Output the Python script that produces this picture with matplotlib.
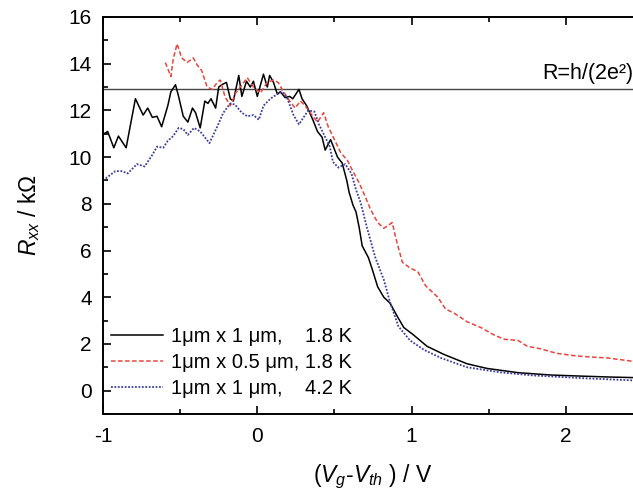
import matplotlib
matplotlib.use("Agg")
import matplotlib.pyplot as plt
from matplotlib.ticker import MultipleLocator, FuncFormatter

plt.rcParams['font.family'] = ['Liberation Sans', 'DejaVu Sans']
plt.rcParams['mathtext.fontset'] = 'custom'
plt.rcParams['mathtext.rm'] = 'Liberation Sans'
plt.rcParams['mathtext.it'] = 'Liberation Sans:italic'

# 1um x 1um, 1.8 K
x_a = [-1.0, -0.97, -0.93, -0.90, -0.85, -0.79, -0.74, -0.71, -0.68, -0.65, -0.62, -0.58, -0.56, -0.53,
       -0.51, -0.48, -0.45, -0.42, -0.40, -0.37, -0.34, -0.32, -0.30, -0.27, -0.25, -0.23, -0.20, -0.175,
       -0.155, -0.12, -0.10, -0.07, -0.045, -0.025, 0.0, 0.04, 0.065, 0.08, 0.105, 0.13, 0.15, 0.18, 0.21,
       0.23, 0.27, 0.29, 0.32, 0.36, 0.39, 0.42, 0.44, 0.475, 0.52, 0.55, 0.58, 0.595, 0.62, 0.64, 0.66,
       0.68, 0.72, 0.745, 0.78, 0.82, 0.86, 0.91, 0.95, 1.01, 1.10, 1.21, 1.36, 1.49, 1.69, 1.90, 2.11,
       2.30, 2.5]
y_a = [10.97, 11.1, 10.4, 10.9, 10.4, 12.5, 11.8, 12.1, 11.7, 11.75, 11.3, 12.2, 12.8, 13.1,
       12.6, 11.75, 11.5, 12.1, 11.9, 11.25, 12.4, 12.3, 12.5, 12.1, 13.0, 13.1, 13.2, 12.5,
       12.4, 13.5, 12.6, 13.25, 13.0, 13.25, 12.6, 13.55, 13.0, 13.5, 13.2, 12.7, 12.8, 12.55, 12.6,
       12.5, 12.9, 12.5, 12.2, 11.6, 11.1, 10.85, 10.3, 10.75, 10.0, 9.75, 9.0, 8.5, 7.95, 7.65, 7.0,
       6.2, 5.7, 5.2, 4.45, 4.0, 3.75, 3.15, 2.7, 2.4, 1.9, 1.55, 1.15, 0.95, 0.77, 0.67, 0.62,
       0.58, 0.55]

# 1um x 0.5um, 1.8 K
x_b = [-0.596, -0.56, -0.545, -0.52, -0.49, -0.455, -0.415, -0.39, -0.36, -0.325, -0.29, -0.26, -0.24,
       -0.21, -0.175, -0.14, -0.11, -0.065, -0.025, 0.02, 0.065, 0.105, 0.135, 0.17, 0.21, 0.245, 0.28,
       0.31, 0.355, 0.39, 0.43, 0.46, 0.50, 0.54, 0.585, 0.615, 0.66, 0.70, 0.735, 0.78, 0.82, 0.875,
       0.895, 0.94, 0.99, 1.04, 1.09, 1.17, 1.22, 1.28, 1.36, 1.45, 1.53, 1.60, 1.69, 1.75, 1.83, 1.94,
       2.05, 2.14, 2.27, 2.5]
y_b = [14.05, 13.45, 14.2, 14.85, 14.25, 14.05, 14.25, 13.95, 13.7, 13.0, 12.9, 13.2, 13.3,
       12.6, 12.2, 12.75, 13.0, 13.4, 13.0, 12.75, 13.2, 13.3, 13.2, 12.8, 12.4, 12.1, 12.4,
       12.2, 11.8, 11.5, 11.9, 11.3, 10.75, 10.2, 9.85, 9.45, 8.9, 8.3, 7.75, 7.2, 6.95, 7.2,
       6.6, 5.5, 5.25, 5.1, 4.5, 4.0, 3.5, 3.3, 2.95, 2.7, 2.4, 2.2, 2.15, 1.9, 1.8, 1.6,
       1.5, 1.45, 1.4, 1.2]

# 1um x 1um, 4.2 K
x_c = [-1.0, -0.97, -0.92, -0.88, -0.84, -0.78, -0.73, -0.68, -0.65, -0.61, -0.58, -0.545, -0.51, -0.48,
       -0.45, -0.41, -0.37, -0.34, -0.31, -0.26, -0.22, -0.175, -0.145, -0.10, -0.065, -0.025, 0.01, 0.04,
       0.085, 0.13, 0.16, 0.195, 0.235, 0.27, 0.30, 0.33, 0.37, 0.40, 0.47, 0.49, 0.525, 0.57, 0.61, 0.64,
       0.67, 0.71, 0.765, 0.82, 0.86, 0.915, 0.99, 1.08, 1.19, 1.36, 1.58, 1.79, 2.12, 2.5]
y_c = [9.0, 9.15, 9.4, 9.4, 9.3, 9.7, 9.6, 10.1, 10.45, 10.4, 10.7, 10.9, 11.25, 11.2,
       10.95, 11.25, 11.1, 10.85, 10.6, 11.3, 11.9, 12.3, 12.25, 11.9, 11.75, 11.8, 11.6, 12.2,
       12.5, 12.7, 12.8, 12.5, 11.8, 11.4, 11.7, 12.0, 11.95, 11.4, 10.45, 9.8, 9.55, 9.7, 9.3, 8.6,
       8.05, 7.0, 5.7, 4.75, 3.8, 2.75, 2.15, 1.75, 1.4, 1.0, 0.78, 0.65, 0.53, 0.42]

labels = ['1μm x 1 μm,    1.8 K', '1μm x 0.5 μm, 1.8 K', '1μm x 1 μm,    4.2 K']
quantum_R = 12.906

W, H = 633, 497
fig = plt.figure(figsize=(W / 100, H / 100), dpi=100)
left, right, top, bottom = 103, 643, 17, 414
ax = fig.add_axes([left / W, 1 - bottom / H, (right - left) / W, (bottom - top) / H])

ax.axhline(quantum_R, color='#444444', lw=1.0, zorder=1)
ax.plot(x_a, y_a, color='black', lw=1.1, ls='-', label=labels[0])
ax.plot(x_b, y_b, color='#e8453c', lw=1.1, ls=(0, (3, 1.6)), label=labels[1])
ax.plot(x_c, y_c, color='#3c3c9c', lw=1.3, ls=(0, (1, 0.9)), label=labels[2])

ax.text(2.44, 13.15, 'R=h/(2e²)', ha='right', va='bottom', fontsize=15.5)

ax.set_xlim(-1, 2.5)
ax.set_ylim(-1, 16)
ax.xaxis.set_major_locator(MultipleLocator(1))
ax.xaxis.set_minor_locator(MultipleLocator(0.5))
ax.yaxis.set_major_locator(MultipleLocator(2))
ax.yaxis.set_minor_locator(MultipleLocator(1))
ax.tick_params(which='both', direction='in', top=True, right=True, width=1.2, labelsize=15)
ax.tick_params(which='major', length=5.5)
ax.tick_params(which='minor', length=3.5)
ax.tick_params(axis='x', pad=9)
ax.tick_params(axis='y', pad=8)
ax.xaxis.set_major_formatter(FuncFormatter(lambda v, p: '%d' % v))
ax.yaxis.set_major_formatter(FuncFormatter(lambda v, p: '%d' % v))
for s in ax.spines.values():
    s.set_linewidth(1.4)

ax.set_xlabel(r'($V_g$-$V_{th}$ ) / V', fontsize=16.5, labelpad=12)
ax.set_ylabel(r'$R_{xx}$ / kΩ', fontsize=16.5, labelpad=19)

ax.legend(loc='lower left', bbox_to_anchor=(0.0, 0.02), frameon=False, fontsize=14.5,
          handlelength=2.6, handletextpad=0.4, labelspacing=0.35, borderaxespad=0, borderpad=0.4)

fig.savefig('out.png', dpi=100)
